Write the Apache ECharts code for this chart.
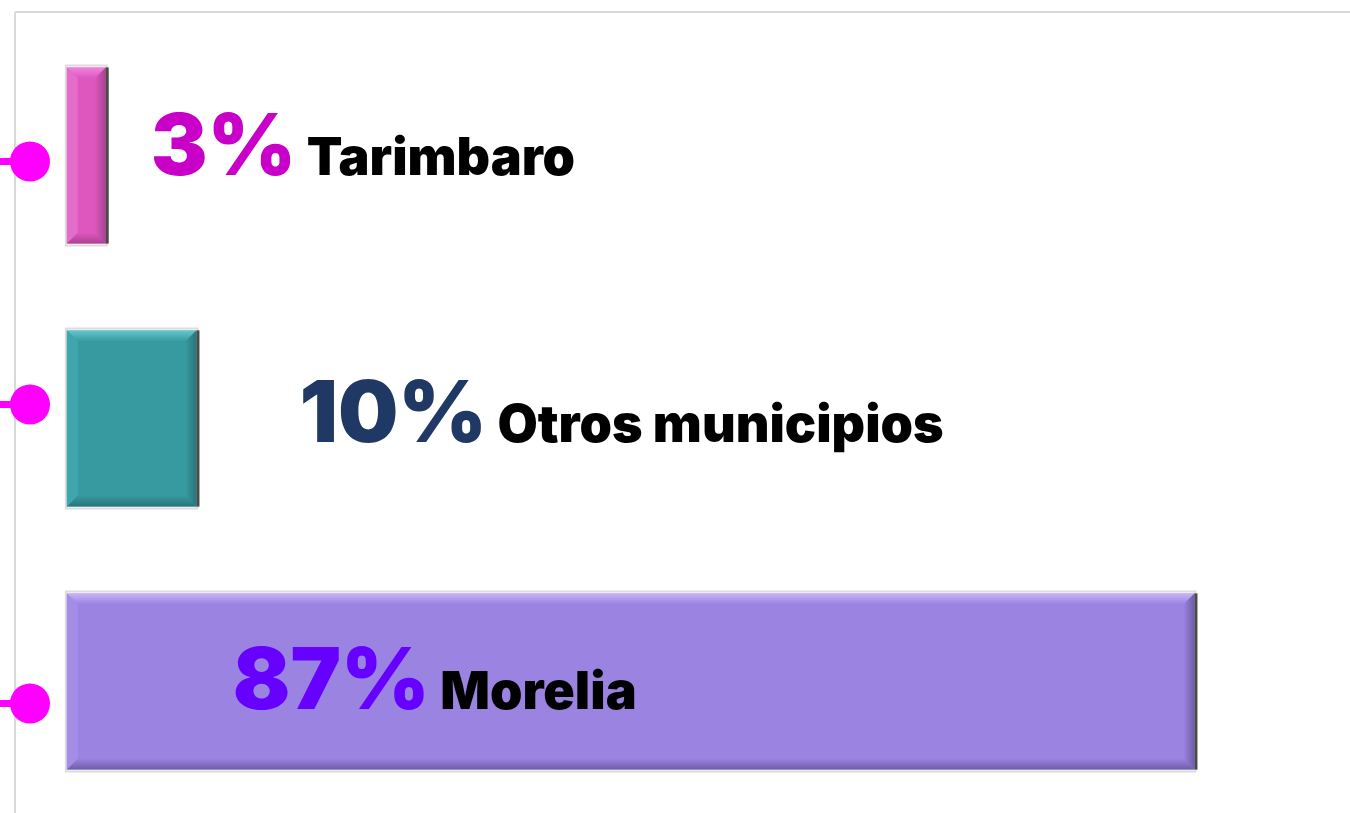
<!DOCTYPE html>
<html>
<head>
<meta charset="utf-8">
<title>Municipios</title>
<script src="https://cdn.jsdelivr.net/npm/echarts@6/dist/echarts.min.js"></script>
<style>
  html, body { margin: 0; padding: 0; background: #fff; }
  #main { width: 1350px; height: 813px; }
</style>
</head>
<body>
<div id="main"></div>
<script>
// data
var categories = ['Tarimbaro', 'Otros municipios', 'Morelia'];
var percentValues = [3, 10, 87];
var percentLabels = ['3%', '10%', '87%'];

// styling per bar
var barColors = [
  { base: '#dd57bf', light: '#f283dd', side: '#e46ccb', dark: '#a8438f' },
  { base: '#369aa0', light: '#63c8ce', side: '#3ea6ac', dark: '#28747a' },
  { base: '#9b83e2', light: '#c7b5f7', side: '#a48de6', dark: '#6f5ca6' }
];
var pctColors = ['#c800c8', '#1f3864', '#6600ff'];
// label placement: anchored at bar end or start, pixel offsets
var labelPlace = [
  { from: 'end', dx: 45, dy: -6 },
  { from: 'end', dx: 103, dy: -2 },
  { from: 'start', dx: 166, dy: 2 }
];
var dotNudge = [6, -14, 22];

var seriesData = percentValues.map(function (v, i) { return [i, v]; });

var myChart = echarts.init(document.getElementById('main'));

function renderBar(params, api) {
  var i = api.value(0);
  var v = api.value(1);
  var p0 = api.coord([0, i]);
  var p1 = api.coord([v, i]);
  var h = api.size([0, 1])[1] * 0.67;
  var x0 = p0[0], x1 = p1[0];
  var y0 = p0[1] - h / 2, y1 = p0[1] + h / 2;
  var b = 11;
  var c = barColors[i];
  var children = [
    { type: 'rect', shape: { x: x0 - 1, y: y0 - 2, width: x1 - x0 + 2, height: h + 4 },
      style: { fill: 'none', stroke: '#dcdcdc', lineWidth: 2 } },
    { type: 'rect', shape: { x: x0, y: y0, width: x1 - x0, height: h }, style: { fill: c.base } },
    { type: 'polygon', shape: { points: [[x0, y0], [x1, y0], [x1 - b, y0 + b], [x0 + b, y0 + b]] },
      style: { fill: new echarts.graphic.LinearGradient(0, 0, 0, 1, [{ offset: 0, color: c.light }, { offset: 1, color: c.base }]) } },
    { type: 'polygon', shape: { points: [[x0, y1], [x1, y1], [x1 - b, y1 - b], [x0 + b, y1 - b]] },
      style: { fill: new echarts.graphic.LinearGradient(0, 0, 0, 1, [{ offset: 0, color: c.base }, { offset: 1, color: c.dark }]) } },
    { type: 'polygon', shape: { points: [[x0, y0], [x0 + b, y0 + b], [x0 + b, y1 - b], [x0, y1]] },
      style: { fill: c.side } },
    { type: 'polygon', shape: { points: [[x1, y0], [x1 - b, y0 + b], [x1 - b, y1 - b], [x1, y1]] },
      style: { fill: new echarts.graphic.LinearGradient(0, 0, 1, 0, [{ offset: 0, color: c.base }, { offset: 1, color: c.dark }]) } },
    { type: 'rect', shape: { x: x1, y: y0, width: 3, height: h }, style: { fill: '#4a4a4a' } }
  ];
  var lp = labelPlace[i];
  var lx = (lp.from === 'end' ? x1 : x0) + lp.dx;
  children.push({
    type: 'text',
    x: lx,
    y: p0[1] + lp.dy,
    style: {
      text: '{p|' + percentLabels[i] + '}{n| ' + categories[i] + '}',
      verticalAlign: 'middle',
      align: 'left',
      rich: {
        p: { fontSize: 85, fontWeight: 900, fontFamily: 'Inter', fill: pctColors[i], lineHeight: 85, verticalAlign: 'bottom' },
        n: { fontSize: 52, fontWeight: 900, fontFamily: 'Inter', fill: '#000', lineHeight: 52, verticalAlign: 'bottom', padding: [0, 0, 7, 0] }
      }
    }
  });
  return { type: 'group', children: children };
}

function renderDot(params, api) {
  var i = api.value(0);
  var p = api.coord([0, i]);
  var cx = params.coordSys.x + 15;
  var cy = p[1] + dotNudge[i];
  return {
    type: 'group',
    children: [
      { type: 'line', shape: { x1: 0, y1: cy, x2: cx, y2: cy }, style: { stroke: '#ff00ff', lineWidth: 7 } },
      { type: 'circle', shape: { cx: cx, cy: cy, r: 20 }, style: { fill: '#ff00ff' } }
    ]
  };
}

var option = {
  animation: false,
  grid: { left: 15, right: 0, top: 24, bottom: -3 },
  xAxis: {
    type: 'value', min: -4, max: 99,
    show: false
  },
  yAxis: {
    type: 'category', data: categories, inverse: true,
    show: false
  },
  graphic: [
    { type: 'line', shape: { x1: 15, y1: 12, x2: 1350, y2: 12 }, style: { stroke: '#d9d9d9', lineWidth: 2 }, z: 0 },
    { type: 'line', shape: { x1: 15, y1: 12, x2: 15, y2: 813 }, style: { stroke: '#d9d9d9', lineWidth: 2 }, z: 0 }
  ],
  series: [
    { type: 'custom', renderItem: renderBar, data: seriesData, encode: { x: 1, y: 0 }, z: 3 },
    { type: 'custom', renderItem: renderDot, data: seriesData, encode: { x: 1, y: 0 }, z: 4 }
  ]
};
myChart.setOption(option);

window.onresize = function () {
  myChart.resize();
};
</script>
</body>
</html>
